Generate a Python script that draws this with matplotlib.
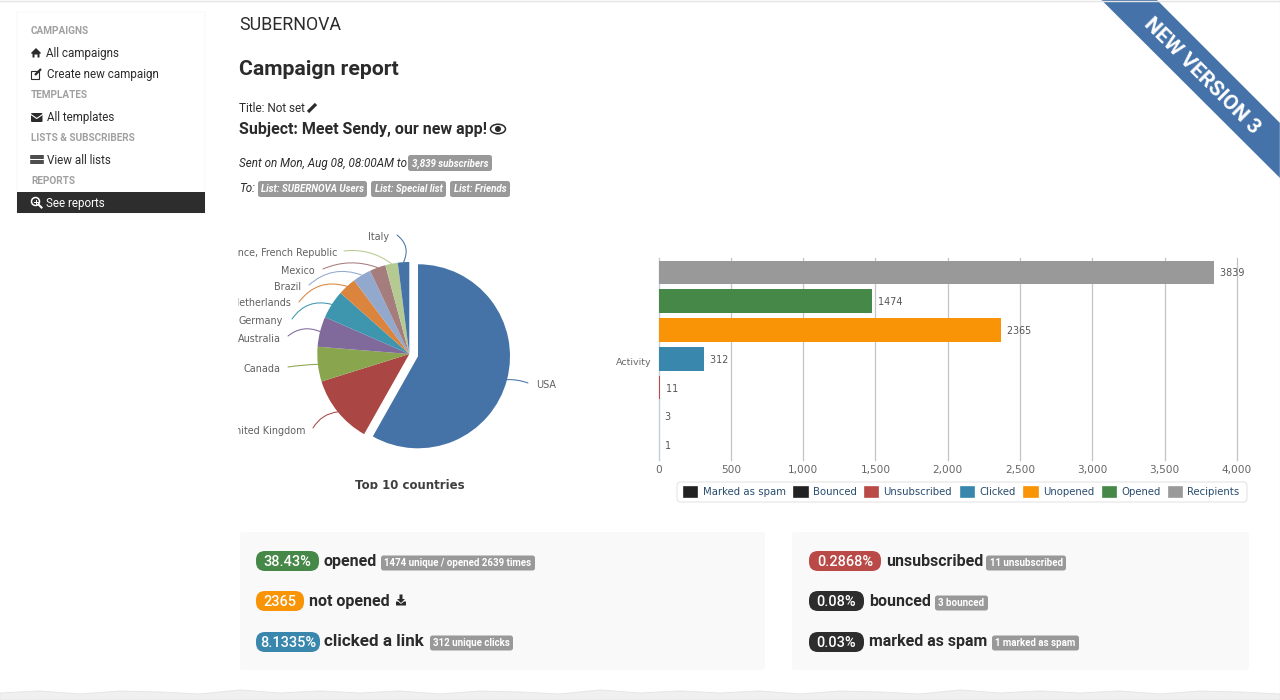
import math
import matplotlib
matplotlib.use("Agg")
import matplotlib.pyplot as plt
from matplotlib.patches import FancyBboxPatch, Polygon, Rectangle, Circle, Ellipse, Patch

plt.rcParams['font.family'] = ['Roboto', 'DejaVu Sans']

# ---------- data ----------
countries = ["USA", "United Kingdom", "Canada", "Australia", "Germany", "Netherlands",
             "Brazil", "Mexico", "France, French Republic", "Italy"]
country_share = [58.2, 12.0, 6.1, 5.3, 5.0, 3.2, 3.25, 2.8, 2.2, 2.0]
country_colors = ["#4572A7", "#AA4643", "#89A54E", "#80699B", "#3D96AE", "#DB843D",
                  "#92A8CD", "#A47D7C", "#B5CA92", "#4572A7"]

series_names = ["Recipients", "Opened", "Unopened", "Clicked", "Unsubscribed", "Bounced", "Marked as spam"]
series_values = [3839, 1474, 2365, 312, 11, 3, 1]
series_colors = ["#999999", "#468847", "#F89406", "#3A87AD", "#B94A48", "#222222", "#222222"]
x_ticks = [0, 500, 1000, 1500, 2000, 2500, 3000, 3500, 4000]

W, H = 1280, 700
INK = "#2b2b2b"
fig = plt.figure(figsize=(W / 100, H / 100), dpi=100, facecolor="white")

def px_axes(x0, y0, x1, y1, **kw):
    return fig.add_axes([x0 / W, 1 - y1 / H, (x1 - x0) / W, (y1 - y0) / H], **kw)

# ---------- page layer (pixel coordinates) ----------
ov = px_axes(0, 0, W, H)
ov.set_xlim(0, W); ov.set_ylim(H, 0); ov.axis("off")

def fs(px):
    return px * 0.72

def T(x, y, s, px=12, color=INK, weight="normal", style="normal", ha="left", **kw):
    return ov.text(x, y - 0.8, s, fontsize=fs(px), color=color, fontweight=weight, fontstyle=style,
                   ha=ha, va="center_baseline", **kw)

def box(x0, y0, x1, y1, color, r=3, z=1, ec="none"):
    ov.add_patch(FancyBboxPatch((x0, y0), x1 - x0, y1 - y0, boxstyle=f"round,pad=0,rounding_size={r}",
                                fc=color, ec=ec, lw=0.7, zorder=z))

def badge(x0, x1, yc, s, px=9.8, style="normal", h=16):
    box(x0, yc - h / 2, x1, yc + h / 2, "#999999", r=2.5)
    T((x0 + x1) / 2, yc, s, px=px, color="white", weight="bold", style=style, ha="center", zorder=3)

def pill(x0, x1, yc, s, color):
    box(x0, yc - 10, x1, yc + 10, color, r=9)
    T((x0 + x1) / 2, yc, s, px=14.5, color="white", weight="medium", ha="center", zorder=3)

def poly(pts, color=INK, z=3):
    ov.add_patch(Polygon(pts, closed=True, fc=color, ec="none", zorder=z))

def pencil(x0, y0, x1, y1, lw=2.2):
    ov.plot([x0, x1], [y0, y1], color=INK, lw=lw, solid_capstyle="butt", zorder=3)

# frame of the screenshot
ov.plot([0, W], [0.5, 0.5], color="#e4e4e4", lw=1)
ov.plot([1279.5, 1279.5], [0, 690], color="#efefef", lw=1)

# torn bottom edge
edge_x = list(range(0, 1281, 40))
edge_off = [693, 691, 694, 691, 692, 694, 690, 693, 691]
edge = [(x, edge_off[i % len(edge_off)]) for i, x in enumerate(edge_x)]
ov.add_patch(Polygon(edge + [(W, H), (0, H)], closed=True, fc="#f0f0f0", ec="#e6e6e6", lw=0.7))

# sidebar
box(17, 12, 205, 213, "white", r=1, ec="#f8f8f8")
ov.add_patch(Rectangle((17, 192), 188, 21, fc="#2d2d2d", ec="none", zorder=2))
for y, s in [(31, "CAMPAIGNS"), (95, "TEMPLATES"), (138, "LISTS & SUBSCRIBERS"), (181, "REPORTS")]:
    T(31, y, s, px=10, color="#a0a0a0", weight="bold")
T(46, 53, "All campaigns", px=11.6)
T(47, 74, "Create new campaign", px=11.6)
T(47, 117, "All templates", px=11.6)
T(47, 160, "View all lists", px=11.6)
T(46, 202.5, "See reports", px=11.6, color="white", zorder=3)
# icons
poly([(31, 53), (36, 48), (41, 53), (40, 54), (39.5, 53.5), (39.5, 57.5), (37.5, 57.5), (37.5, 54.5),
      (34.5, 54.5), (34.5, 57.5), (32.5, 57.5), (32.5, 53.5), (32, 54)])
ov.add_patch(Rectangle((30.5, 70.5), 8.5, 8.5, fc="none", ec=INK, lw=0.8, zorder=3))
pencil(35, 75, 41, 69, lw=1.6)
ov.add_patch(FancyBboxPatch((31, 113), 11.5, 9, boxstyle="round,pad=0,rounding_size=1", fc=INK, ec="none", zorder=3))
ov.plot([31, 36.75, 42.5], [114.5, 118.5, 114.5], color="white", lw=0.8, zorder=4)
for y in (155.5, 158, 160.5, 163):
    ov.plot([31, 42.5], [y, y], color=INK, lw=1.2, zorder=3)
ov.add_patch(Circle((35.5, 201.5), 4, fc="none", ec="white", lw=1.1, zorder=3))
ov.plot([38.5, 41.5], [204.5, 207.5], color="white", lw=1.5, zorder=3)
ov.plot([33.5, 37.5], [201.5, 201.5], color="white", lw=0.7, zorder=3)
ov.plot([35.5, 35.5], [199.5, 203.5], color="white", lw=0.7, zorder=3)

# header
T(239, 24, "SUBERNOVA", px=17.7)
T(239, 68, "Campaign report", px=21.3, weight="bold")
T(239, 108, "Title: Not set", px=11.8)
pencil(308, 112, 316, 104, lw=2.3)
T(239, 129, "Subject: Meet Sendy, our new app!", px=16, weight="bold")
ov.add_patch(Ellipse((498, 129), 15, 9.5, fc="none", ec=INK, lw=1.1))
ov.add_patch(Circle((498, 129), 3, fc=INK, ec="none"))
T(239, 163, "Sent on Mon, Aug 08, 08:00AM to", px=11.65, style="italic")
badge(408, 492, 163, "3,839 subscribers", style="italic")
T(239, 188, "To:", px=11.65, style="italic")
badge(258, 367, 189, "List: SUBERNOVA Users", style="italic")
badge(371, 446, 189, "List: Special list", style="italic")
badge(450, 510, 189, "List: Friends", style="italic")

# ribbon
ov.add_patch(Polygon([(1101.5, 0), (1157, 0), (1280, 123), (1280, 178)], closed=True, fc="#4573A9", ec="none"))
T(1203, 75, "NEW VERSION 3", px=21, color="white", weight="bold", ha="center",
  rotation=-45, rotation_mode="anchor")

# stat panels
box(240, 532, 765, 670, "#f9f9f9", r=3)
box(792, 532, 1249, 670, "#f9f9f9", r=3)
pill(256, 319, 561, "38.43%", "#468847")
T(323, 561, "opened", px=16, weight="bold")
badge(381, 535, 563, "1474 unique / opened 2639 times", px=9.8, h=15)
pill(256, 304, 601, "2365", "#F89406")
T(309, 601, "not opened", px=16, weight="bold")
# download icon
poly([(399.5, 594.5), (402.5, 594.5), (402.5, 599), (405, 599), (401, 603), (397, 599), (399.5, 599)])
poly([(396, 601.5), (398, 601.5), (401, 604), (404, 601.5), (406, 601.5), (406, 605.5), (396, 605.5)])
pill(256, 320, 642, "8.1335%", "#3A87AD")
T(324, 641, "clicked a link", px=17, weight="bold")
badge(430, 513, 643, "312 unique clicks", px=9.8, h=15)
pill(809, 881, 561, "0.2868%", "#B94A48")
T(886, 561, "unsubscribed", px=16, weight="bold")
badge(986, 1066, 563, "11 unsubscribed", px=9.8, h=15)
pill(809, 864, 601, "0.08%", "#2d2d2d")
T(869, 601, "bounced", px=16, weight="bold")
badge(935, 988, 603, "3 bounced", px=9.8, h=15)
pill(809, 864, 642, "0.03%", "#2d2d2d")
T(869, 641, "marked as spam", px=16, weight="bold")
badge(992, 1079, 643, "1 marked as spam", px=9.8, h=15)
box(677, 482, 1247, 502, "white", r=4, ec="#e2e2e2")

# ---------- pie ----------
PX0, PY0, PX1, PY1 = 238, 225, 600, 488.5
pa = px_axes(PX0, PY0, PX1, PY1)
pa.patch.set_alpha(0)
CX, CY, R = 409.3, H - 354, 92
explode = [9] + [0] * (len(countries) - 1)
wedges, _ = pa.pie(country_share, colors=country_colors, explode=explode, center=(CX, CY), radius=R,
                   startangle=90, counterclock=False, frame=True, wedgeprops={"linewidth": 0})
pa.set_xlim(PX0, PX1); pa.set_ylim(H - PY1, H - PY0)
pa.set_aspect("auto"); pa.axis("off")

# label anchor (pixel x of the near end, pixel y), leader start, alignment, curvature
label_layout = [
    (536, 385, 528, 383, "left", -0.1),
    (306, 430, 313, 428, "right", 0.25),
    (280, 368, 288, 367, "right", 0.03),
    (281, 338, 288, 336, "right", 0.3),
    (283, 321, 292, 319, "right", 0.35),
    (291, 303, 299, 302, "right", 0.35),
    (301, 287, 309, 285, "right", 0.3),
    (315, 270, 323, 269, "right", 0.2),
    (337, 253, 344, 251, "right", 0.2),
    (389, 236, 397, 235, "right", 0.4),
]
total = sum(country_share)
cum = 0.0
clip = pa.bbox
for name, share, col, lay, w in zip(countries, country_share, country_colors, label_layout, wedges):
    mid = math.radians(90 - (cum + share / 2) / total * 360)
    cum += share
    wx, wy = w.center
    end = (wx + R * math.cos(mid), wy + R * math.sin(mid))
    lx, ly, sx, sy, ha, rad = lay
    t = pa.text(lx, H - ly + 0.5, name, fontsize=fs(9.7), family="DejaVu Sans", color="#606060", ha=ha,
                va="center_baseline", clip_on=True)
    t.set_clip_box(clip)
    pa.annotate("", xy=end, xytext=(sx, H - sy),
                arrowprops=dict(arrowstyle="-", color=col, lw=0.75, shrinkA=0, shrinkB=0,
                                connectionstyle=f"arc3,rad={-rad}"))
title = pa.text(409.5, H - 484, "Top 10 countries", fontsize=fs(11.8), family="DejaVu Sans", weight="bold",
                color="#3f3f3f", ha="center", va="center_baseline", clip_on=True)
title.set_clip_box(clip)

# ---------- bars ----------
ba = px_axes(658.5, 258, 1237, 459.5)
ba.patch.set_alpha(0)
positions = list(range(len(series_names)))
for i, (n, v, c) in enumerate(zip(series_names, series_values, series_colors)):
    ba.barh(i, v, height=0.82, color=c, label=n, zorder=3)
    ba.text(v, i, f"  {v}", fontsize=fs(9.6), family="DejaVu Sans", color="#555555",
            ha="left", va="center_baseline", zorder=4, clip_on=False)
ba.set_xlim(0, 4000)
ba.set_ylim(len(series_names) - 0.5, -0.5)
ba.set_xticks(x_ticks)
ba.set_xticklabels([f"{v:,}" for v in x_ticks], fontsize=fs(10.5), family="DejaVu Sans", color="#666666")
ba.set_yticks([3.08])
ba.set_yticklabels(["Activity"], fontsize=fs(9.5), family="DejaVu Sans", color="#666666")
ba.tick_params(axis="x", length=0, pad=4)
ba.tick_params(axis="y", length=0, pad=5.2)
ba.grid(axis="x", color="#c4c4c4", lw=0.9, zorder=0)
for line in ba.get_xgridlines():
    line.set_clip_on(False)
for s in ("top", "right", "bottom"):
    ba.spines[s].set_visible(False)
ba.spines["left"].set_color("#C0D0E0")
ba.spines["left"].set_linewidth(0.8)
handles = [Patch(fc=series_colors[i], ec=series_colors[i], lw=1.2, joinstyle="round", label=series_names[i])
           for i in reversed(positions)]
leg = fig.legend(handles=handles, loc="center", bbox_to_anchor=(962 / W, 1 - 492 / H), ncol=7,
                 prop={"family": "DejaVu Sans", "size": fs(10.1)},
                 handlelength=1.3, handleheight=1.15, handletextpad=0.5, columnspacing=0.88,
                 borderpad=0, borderaxespad=0, frameon=False, labelcolor="#274b6d")

fig.savefig("out.png", dpi=100)
